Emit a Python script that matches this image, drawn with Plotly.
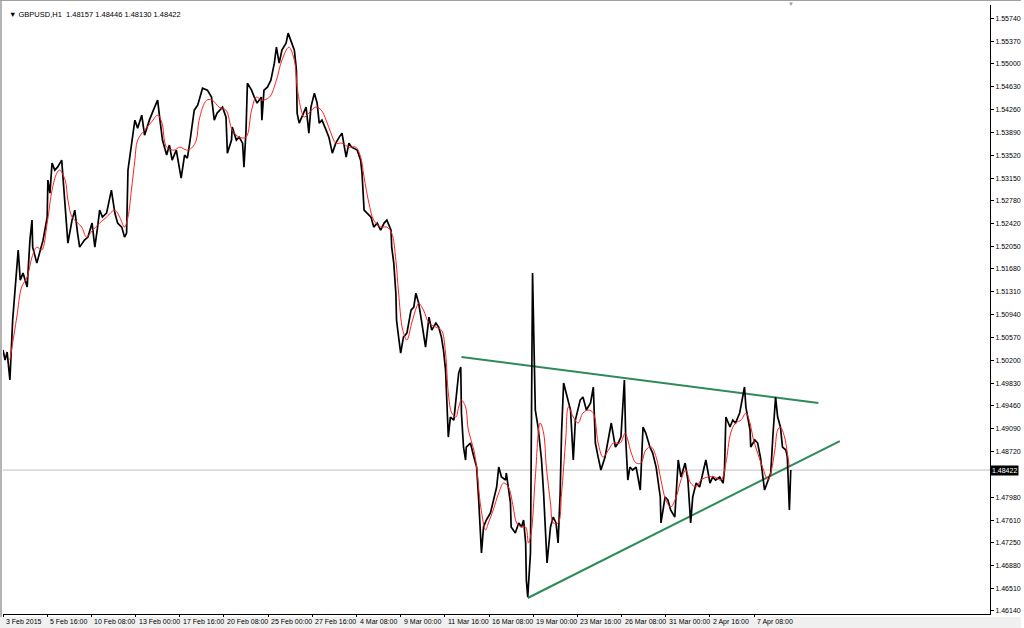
import plotly.graph_objects as go

# ---------------- data (hour-bar index from 3 Feb 2015 00:00, price) ----------------
bar_idx = [0, 3, 6, 10, 14, 20, 22, 25, 29, 35, 39, 42, 43, 49, 53, 58, 64, 65, 68, 71, 75, 79, 85, 87, 90, 92, 94,
           100, 104, 108, 111, 118, 123, 129, 133, 137, 140, 144, 150, 157, 159, 162, 166, 172, 176, 179, 181, 183, 186,
           191, 195, 201, 205, 212, 219, 224, 227, 231, 237, 241, 245, 251, 256, 258, 263, 267, 270, 274, 277, 282, 284,
           289, 296, 302, 306, 310, 318, 323, 325, 331, 332, 338, 342, 347, 349, 352, 354, 360, 364, 368, 374, 375, 378,
           383, 388, 393, 396, 400, 404, 410, 413, 417, 422, 425, 426, 429, 433, 439, 443, 446, 451, 455, 458, 462, 468,
           472, 477, 482, 487, 491, 497, 501, 505, 513, 518, 520, 523, 527, 533, 537, 542, 547, 552, 556, 562, 563, 566,
           569, 570, 573, 576, 580, 585, 591, 595, 598, 602, 606, 612, 617, 621, 627, 631, 635, 638, 641, 643, 645, 648,
           653, 657, 660, 663, 664, 667, 670, 671, 677, 682, 686, 689, 692, 693, 696, 700, 706, 710, 715, 718, 722, 728,
           729, 735, 736, 742, 747, 751, 754, 757, 758, 760, 764, 765, 767, 770, 771, 775, 780, 783, 786, 788, 793, 797,
           801, 804, 807, 809, 812, 816, 822, 826, 829, 836, 840, 845, 851, 855, 858, 862, 866, 872, 877, 881, 887, 891,
           895, 900, 902, 905, 908, 912, 917, 923, 927, 931, 937, 941, 946, 952, 953, 959, 963, 967, 973, 978, 982, 988,
           992, 996, 999, 1004, 1009, 1014, 1018, 1024, 1028, 1032, 1038, 1043, 1045, 1047, 1053, 1057, 1061, 1067, 1071,
           1074, 1076, 1082, 1083, 1089, 1093, 1097, 1103, 1108, 1112, 1115, 1118, 1119, 1122, 1126, 1129, 1134, 1136,
           1139, 1141]
price = [1.50366, 1.50204, 1.50333, 1.49880, 1.50851, 1.51661, 1.51985, 1.51499, 1.51612, 1.51386, 1.52146, 1.52470,
         1.52033, 1.51774, 1.51936, 1.52146, 1.52519, 1.53118, 1.52907, 1.53393, 1.53280, 1.53328, 1.53442, 1.53166,
         1.52681, 1.52422, 1.52098, 1.52470, 1.52632, 1.52260, 1.52033, 1.52146, 1.52195, 1.52422, 1.52033, 1.52357,
         1.52632, 1.52519, 1.52584, 1.52956, 1.52794, 1.52584, 1.52422, 1.52357, 1.52195, 1.52260, 1.53280, 1.53442,
         1.53717, 1.54089, 1.53960, 1.54170, 1.53846, 1.54089, 1.54284, 1.54413, 1.54122, 1.53766, 1.53523, 1.53685,
         1.53442, 1.53604, 1.53280, 1.53150, 1.53523, 1.53474, 1.53685, 1.54008, 1.54251, 1.54332, 1.54413, 1.54607,
         1.54575, 1.54462, 1.54089, 1.54203, 1.54300, 1.54138, 1.53555, 1.53766, 1.53976, 1.53766, 1.53814, 1.53717,
         1.53328, 1.53927, 1.54688, 1.54575, 1.54462, 1.54365, 1.54462, 1.54089, 1.54575, 1.54624, 1.54737, 1.55012,
         1.55271, 1.55012, 1.55223, 1.55336, 1.55498, 1.55385, 1.55223, 1.54899, 1.54203, 1.54041, 1.54138, 1.54300,
         1.53879, 1.54300, 1.54526, 1.54365, 1.54041, 1.54089, 1.53927, 1.53814, 1.53555, 1.53717, 1.53814, 1.53879,
         1.53490, 1.53717, 1.53652, 1.53604, 1.53442, 1.53231, 1.52632, 1.52584, 1.52519, 1.52357, 1.52422, 1.52308,
         1.52422, 1.52470, 1.52308, 1.52033, 1.51774, 1.51288, 1.50851, 1.50576, 1.50317, 1.50576, 1.50641, 1.51013,
         1.51062, 1.51288, 1.51127, 1.50851, 1.50414, 1.50900, 1.50689, 1.50803, 1.50738, 1.50576, 1.50366, 1.50042,
         1.49394, 1.48957, 1.49281, 1.49232, 1.49669, 1.49993, 1.50090, 1.49346, 1.48795, 1.48585, 1.48795, 1.48860,
         1.48633, 1.48471, 1.47937, 1.47241, 1.47079, 1.47500, 1.47613, 1.47727, 1.47937, 1.48148, 1.48471, 1.48310,
         1.48261, 1.48374, 1.47889, 1.47500, 1.47403, 1.47565, 1.47500, 1.47613, 1.47241, 1.46642, 1.46367, 1.47079,
         1.48585, 1.51612, 1.49928, 1.49394, 1.49119, 1.48585, 1.48050, 1.47241, 1.46917, 1.47500, 1.47662, 1.47565,
         1.47241, 1.48050, 1.49022, 1.49831, 1.49669, 1.49394, 1.48585, 1.49232, 1.49556, 1.49605, 1.49394, 1.49508,
         1.49767, 1.48860, 1.48633, 1.48423, 1.48633, 1.48957, 1.49184, 1.48795, 1.48860, 1.48957, 1.49880, 1.48909,
         1.48261, 1.48471, 1.48423, 1.48471, 1.48099, 1.49119, 1.49022, 1.48795, 1.48698, 1.48471, 1.47986, 1.47565,
         1.47986, 1.47937, 1.47775, 1.47662, 1.48585, 1.48310, 1.48536, 1.48261, 1.47565, 1.47986, 1.48212, 1.48148,
         1.48423, 1.48585, 1.48212, 1.48310, 1.48261, 1.48310, 1.48212, 1.48423, 1.49281, 1.49119, 1.49232, 1.49184,
         1.49346, 1.49605, 1.49767, 1.49443, 1.49070, 1.48795, 1.48909, 1.48860, 1.48633, 1.48099, 1.48261, 1.48374,
         1.48957, 1.49394, 1.49605, 1.49281, 1.49119, 1.48795, 1.48747, 1.48633, 1.47775, 1.48422]

ma_idx = [10, 20, 27, 35, 42, 49, 56, 64, 71, 78, 82, 90, 94, 100, 107, 114, 121, 130, 140, 150, 162, 169, 176, 181,
          186, 191, 195, 205, 215, 224, 230, 237, 248, 256, 266, 273, 280, 284, 295, 303, 313, 323, 332, 342, 352, 360,
          367, 375, 386, 396, 404, 414, 422, 426, 432, 436, 443, 453, 461, 468, 475, 482, 491, 501, 511, 518, 523, 530,
          537, 547, 556, 563, 569, 573, 579, 585, 592, 599, 602, 609, 617, 627, 635, 641, 645, 650, 656, 660, 664, 670,
          674, 682, 686, 692, 699, 703, 710, 718, 725, 732, 739, 744, 751, 757, 761, 765, 771, 778, 783, 787, 793, 797,
          804, 809, 815, 819, 826, 833, 840, 848, 855, 862, 869, 877, 884, 894, 901, 905, 910, 917, 924, 931, 939, 946,
          953, 960, 967, 975, 982, 989, 996, 1004, 1011, 1021, 1031, 1040, 1047, 1054, 1061, 1069, 1076, 1082, 1086,
          1093, 1100, 1108, 1112, 1118, 1122, 1126, 1132, 1136, 1139]
ma_price = [1.50204, 1.50900, 1.51386, 1.51548, 1.51871, 1.52033, 1.51985, 1.52422, 1.52956, 1.53231, 1.53280, 1.53118,
            1.52794, 1.52519, 1.52438, 1.52357, 1.52195, 1.52308, 1.52422, 1.52519, 1.52632, 1.52519, 1.52357, 1.52519,
            1.52956, 1.53442, 1.53766, 1.53927, 1.54057, 1.54170, 1.54057, 1.53652, 1.53604, 1.53652, 1.53604, 1.53636,
            1.53766, 1.54089, 1.54413, 1.54413, 1.54300, 1.54251, 1.53927, 1.53814, 1.53814, 1.54251, 1.54462, 1.54413,
            1.54462, 1.54737, 1.55061, 1.55271, 1.55061, 1.54624, 1.54251, 1.54138, 1.54203, 1.54300, 1.54251, 1.54089,
            1.53879, 1.53717, 1.53717, 1.53652, 1.53652, 1.53490, 1.53166, 1.52746, 1.52470, 1.52357, 1.52357, 1.52260,
            1.51823, 1.51288, 1.50689, 1.50528, 1.50803, 1.51062, 1.51127, 1.51013, 1.50803, 1.50738, 1.50689, 1.50317,
            1.49669, 1.49346, 1.49281, 1.49443, 1.49556, 1.49443, 1.49070, 1.48747, 1.48471, 1.47824, 1.47451, 1.47565,
            1.47775, 1.48050, 1.48212, 1.48148, 1.47824, 1.47565, 1.47500, 1.47500, 1.47241, 1.47403, 1.48310, 1.49184,
            1.49022, 1.48471, 1.47889, 1.47565, 1.47565, 1.48050, 1.48909, 1.49443, 1.49281, 1.49184, 1.49346, 1.49394,
            1.49346, 1.48860, 1.48633, 1.48747, 1.48860, 1.48860, 1.49022, 1.48909, 1.48698, 1.48536, 1.48536, 1.48747,
            1.48795, 1.48633, 1.48261, 1.47937, 1.47824, 1.47986, 1.48261, 1.48423, 1.48212, 1.48148, 1.48261, 1.48310,
            1.48310, 1.48261, 1.48536, 1.49022, 1.49184, 1.49232, 1.49346, 1.49184, 1.48957, 1.48698, 1.48471, 1.48261,
            1.48374, 1.48747, 1.49070, 1.49119, 1.48957, 1.48698, 1.48471]

# trendlines (drawing objects): [start, end]
upper_idx = [664, 1181]
upper_price = [1.50252, 1.49508]
lower_idx = [760, 1212]
lower_price = [1.46350, 1.48892]

last_price = 1.48422
title_text = "GBPUSD,H1  1.48157 1.48446 1.48130 1.48422"

y_ticks = [1.55740, 1.55370, 1.55000, 1.54630, 1.54260, 1.53890, 1.53520, 1.53150, 1.52780, 1.52420, 1.52050,
           1.51680, 1.51310, 1.50940, 1.50570, 1.50200, 1.49830, 1.49460, 1.49090, 1.48720, 1.48350, 1.47980,
           1.47610, 1.47250, 1.46880, 1.46510, 1.46140]
x_tick_idx = [0, 64, 128, 192, 256, 320, 384, 448, 512, 576, 640, 704, 768, 832, 896, 960, 1024, 1088]
x_tick_labels = ["3 Feb 2015", "5 Feb 16:00", "10 Feb 08:00", "13 Feb 00:00", "17 Feb 16:00", "20 Feb 08:00",
                 "25 Feb 00:00", "27 Feb 16:00", "4 Mar 08:00", "9 Mar 00:00", "11 Mar 16:00", "16 Mar 08:00",
                 "19 Mar 00:00", "23 Mar 16:00", "26 Mar 08:00", "31 Mar 00:00", "2 Apr 16:00", "7 Apr 08:00"]

# ---------------- figure ----------------
FONT = "Liberation Sans"
W, H = 1024, 628
ML, MR, MT, MB = 3, 31, 5, 14
PW, PH = W - ML - MR, H - MT - MB

fig = go.Figure()
fig.add_trace(go.Scatter(x=upper_idx, y=upper_price, mode="lines",
                         line=dict(color="#2e8b57", width=2), hoverinfo="skip"))
fig.add_trace(go.Scatter(x=lower_idx, y=lower_price, mode="lines",
                         line=dict(color="#2e8b57", width=2), hoverinfo="skip"))
fig.add_trace(go.Scatter(x=bar_idx, y=price, mode="lines",
                         line=dict(color="black", width=1.7)))
fig.add_trace(go.Scatter(x=ma_idx, y=ma_price, mode="lines", line_shape="spline",
                         line=dict(color="#ff2020", width=1)))

fig.add_shape(type="line", xref="paper", x0=0, x1=1, yref="y", y0=last_price, y1=last_price,
              line=dict(color="#c0c0c0", width=1), layer="below")
# window frame
fig.add_shape(type="rect", xref="paper", yref="paper", x0=-ML / PW, x1=-1 / PW, y0=-MB / PH, y1=1 + MT / PH,
              fillcolor="#b4b4b4", line_width=0)
fig.add_shape(type="line", xref="paper", yref="paper", x0=-ML / PW, x1=1 + MR / PW,
              y0=1 + (MT - 0.5) / PH, y1=1 + (MT - 0.5) / PH, line=dict(color="#a0a0a0", width=1))
fig.add_shape(type="rect", xref="paper", yref="paper", x0=-ML / PW, x1=1 + MR / PW,
              y0=-MB / PH, y1=-(MB - 11) / PH, fillcolor="#f0f0f0", line_width=0)

annotations = [
    dict(text="▼ " + title_text, xref="paper", yref="paper", x=4 / PW, y=1 - 3 / PH,
         xanchor="left", yanchor="top", showarrow=False, font=dict(family=FONT, size=7.5, color="black")),
    dict(text="▼", xref="x", yref="paper", x=1142, y=1 + 1 / PH, xanchor="center", yanchor="middle",
         showarrow=False, font=dict(size=6, color="#a0a0a0")),
    dict(text=f"{last_price:.5f}", xref="paper", yref="y", x=1, y=last_price, xanchor="left",
         yanchor="middle", showarrow=False, bgcolor="black", borderpad=1,
         font=dict(family=FONT, size=7, color="white")),
]
for xi, lab in zip(x_tick_idx, x_tick_labels):
    annotations.append(dict(text=lab, xref="x", yref="paper", x=xi, y=-2 / PH, xanchor="left", yanchor="top",
                            xshift=1, showarrow=False, font=dict(family=FONT, size=7, color="black")))

# the tick hidden behind the current-price marker carries no visible label
y_tick_text = ["" if abs(v - last_price) < 0.001 else f"{v:.5f}" for v in y_ticks]

fig.update_layout(
    width=W, height=H, margin=dict(l=ML, r=MR, t=MT, b=MB),
    paper_bgcolor="white", plot_bgcolor="white", showlegend=False,
    annotations=annotations,
    xaxis=dict(range=[0, PW * 1.444], showgrid=False, zeroline=False, tickmode="array",
               tickvals=x_tick_idx, ticks="outside", ticklen=3, tickcolor="black", showticklabels=False,
               showline=True, linecolor="black", linewidth=1),
    yaxis=dict(range=[1.46091, 1.55954], side="right", showgrid=False, zeroline=False, tickmode="array",
               tickvals=y_ticks, ticktext=y_tick_text, ticks="outside", ticklen=3,
               tickcolor="black", showline=True, linecolor="black", linewidth=1,
               tickfont=dict(family=FONT, size=7, color="black")),
)

fig.write_html("out.html", config={"displayModeBar": False},
               post_script="document.body.style.margin='0';document.body.style.overflow='hidden';")
